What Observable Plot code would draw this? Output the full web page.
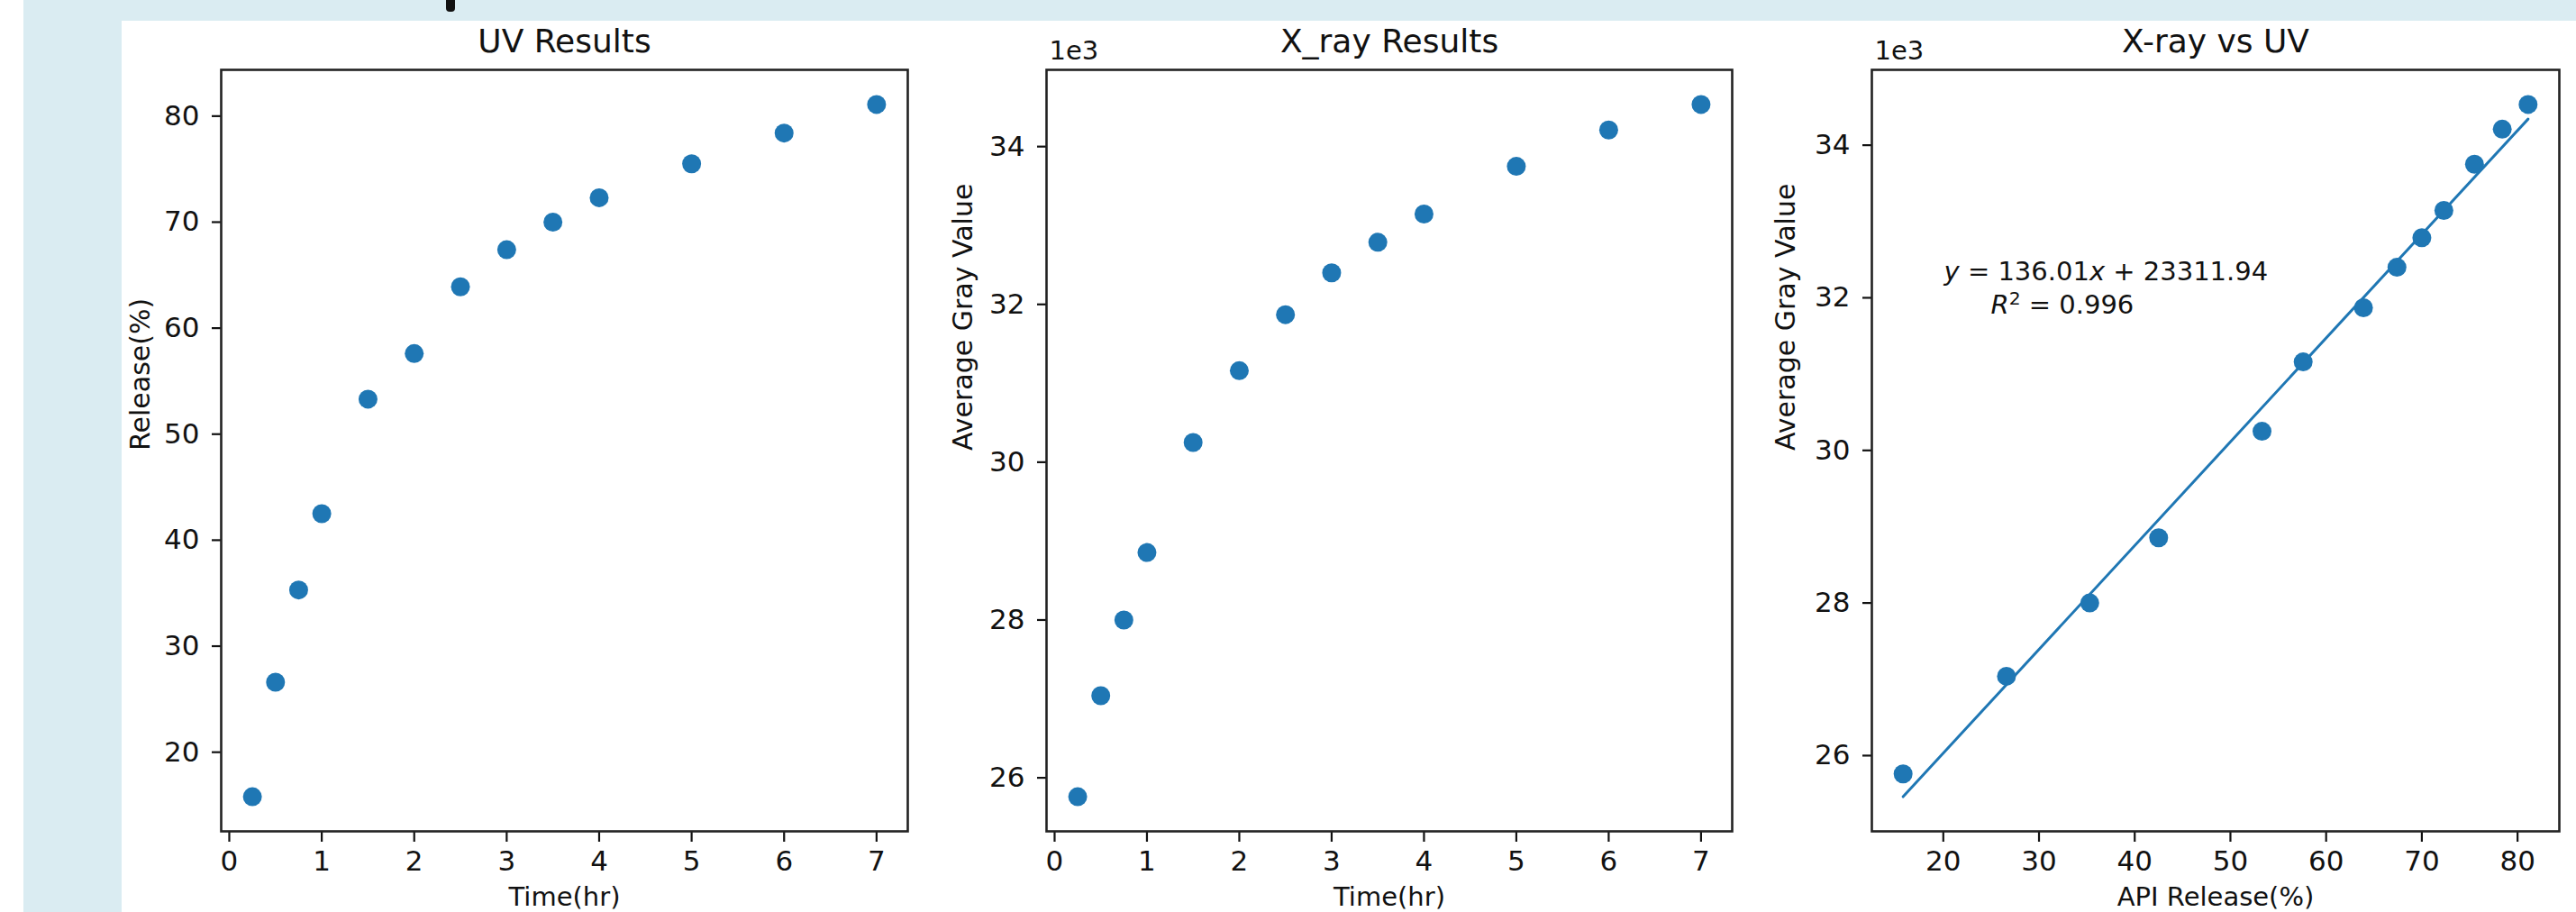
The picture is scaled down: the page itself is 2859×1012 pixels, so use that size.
<!DOCTYPE html>
<html><head><meta charset="utf-8">
<script src="https://cdn.jsdelivr.net/npm/d3@7"></script>
<script src="https://cdn.jsdelivr.net/npm/@observablehq/plot@0.6"></script>
<style>
html,body{margin:0;padding:0;background:#fff;}
#page{position:relative;width:2859px;height:1012px;overflow:hidden;background:#fff;font-family:"DejaVu Sans";}
.band{position:absolute;background:#daecf2;}
.panel{position:absolute;top:23px;}
</style></head><body>
<div id="page">
  <div class="band" style="left:26px;top:0;width:2833px;height:23px"></div>
  <div class="band" style="left:26px;top:0;width:109px;height:1012px"></div>
  <div style="position:absolute;left:495px;top:0;width:10px;height:13px;background:#111;border-radius:0 0 4px 4px"></div>
</div>
<script>
// ---- data ----
const time = [0.25, 0.5, 0.75, 1, 1.5, 2, 2.5, 3, 3.5, 4, 5, 6, 7];
const uvRelease = [15.8, 26.6, 35.3, 42.5, 53.3, 57.6, 63.9, 67.4, 70.0, 72.3, 75.5, 78.4, 81.1];
const xrayGray = [25760, 27040, 28000, 28855, 30250, 31160, 31870, 32400, 32787, 33145, 33750, 34210, 34534];
const timeTicks = [0, 1, 2, 3, 4, 5, 6, 7];
const uvTicks = [20, 30, 40, 50, 60, 70, 80];
const grayTicks = [26000, 28000, 30000, 32000, 34000];
const apiTicks = [20, 30, 40, 50, 60, 70, 80];
const fitSlope = 136.01, fitIntercept = 23311.94, fitR2 = 0.996;
const titles = ["UV Results", "X_ray Results", "X-ray vs UV"];
const xLabels = ["Time(hr)", "Time(hr)", "API Release(%)"];
const yLabels = ["Release(%)", "Average Gray Value", "Average Gray Value"];
const offsetText = "1e3";

// ---- helpers ----
const blue = "#1f77b4";
const ink = "#111";
const pad = ([a, b]) => [a - 0.05 * (b - a), b + 0.05 * (b - a)];
const rows = time.map((t, i) => ({t, uv: uvRelease[i], gray: xrayGray[i]}));
const fitLine = d3.extent(uvRelease).map(x => ({x, y: fitSlope * x + fitIntercept}));
const kfmt = d => String(d / 1000);

function panel({left, width, mLeft, mRight, xKey, yKey, xDomain, yDomain, xTicks, yTicks, yFmt, title, xLabel, yLabel, yLabelDx, offset, extra = []}) {
  const svg = Plot.plot({
    width, height: 989,
    marginTop: 54, marginBottom: 90, marginLeft: mLeft, marginRight: mRight,
    style: {fontFamily: "DejaVu Sans", color: ink, background: "transparent", overflow: "visible"},
    x: {domain: xDomain},
    y: {domain: yDomain},
    marks: [
      Plot.axisX({ticks: xTicks, tickSize: 12, tickPadding: 9, fontSize: 31, strokeWidth: 2.2, label: null}),
      Plot.axisY({ticks: yTicks, tickSize: 10, tickPadding: 14, fontSize: 31, strokeWidth: 2.2, label: null, tickFormat: yFmt}),
      ...extra,
      Plot.dot(rows, {x: xKey, y: yKey, r: 10.5, fill: blue, stroke: null}),
      Plot.frame({stroke: "#222", strokeWidth: 2.6}),
      Plot.text([title], {frameAnchor: "top", lineAnchor: "bottom", dy: -20, fontSize: 36, fill: ink}),
      Plot.text([xLabel], {frameAnchor: "bottom", lineAnchor: "top", dy: 62, fontSize: 29, fill: ink}),
      Plot.text([yLabel], {frameAnchor: "left", rotate: -90, lineAnchor: "middle", dx: yLabelDx, fontSize: 30, fill: ink}),
      ...(offset ? [Plot.text([offsetText], {frameAnchor: "top-left", textAnchor: "start", lineAnchor: "bottom", dx: 3, dy: -12, fontSize: 29, fill: ink})] : [])
    ]
  });
  svg.classList.add("panel");
  svg.style.left = left + "px";
  document.getElementById("page").appendChild(svg);
  return svg;
}

panel({left: 135, width: 905, mLeft: 110, mRight: 33, xKey: "t", yKey: "uv",
  xDomain: pad(d3.extent(time)), yDomain: pad(d3.extent(uvRelease)),
  xTicks: timeTicks, yTicks: uvTicks, yFmt: d => String(d),
  title: titles[0], xLabel: xLabels[0], yLabel: yLabels[0], yLabelDx: -89, offset: false});

panel({left: 1041, width: 934, mLeft: 120, mRight: 53, xKey: "t", yKey: "gray",
  xDomain: pad(d3.extent(time)), yDomain: pad(d3.extent(xrayGray)),
  xTicks: timeTicks, yTicks: grayTicks, yFmt: kfmt,
  title: titles[1], xLabel: xLabels[1], yLabel: yLabels[1], yLabelDx: -92, offset: true});

const eq1 = `y = ${fitSlope.toFixed(2)}x + ${fitIntercept.toFixed(2)}`;
const eq2 = `R2 = ${fitR2.toFixed(3)}`;
const p3 = panel({left: 1975, width: 884, mLeft: 102, mRight: 19, xKey: "uv", yKey: "gray",
  xDomain: pad(d3.extent(uvRelease)),
  yDomain: pad(d3.extent([...xrayGray, ...fitLine.map(d => d.y)])),
  xTicks: apiTicks, yTicks: grayTicks, yFmt: kfmt,
  title: titles[2], xLabel: xLabels[2], yLabel: yLabels[2], yLabelDx: -95, offset: true,
  extra: [
    Plot.line(fitLine, {x: "x", y: "y", stroke: blue, strokeWidth: 3}),
    Plot.text([eq1], {frameAnchor: "top-left", textAnchor: "start", lineAnchor: "bottom", dx: 80, dy: 233, fontSize: 29, fill: ink}),
    Plot.text([eq2], {frameAnchor: "top-left", textAnchor: "start", lineAnchor: "bottom", dx: 132, dy: 270, fontSize: 29, fill: ink})
  ]});

// mathtext-style italics / superscript
d3.select(p3).selectAll("text").each(function () {
  const s = this.textContent;
  const t = d3.select(this);
  if (s === eq1) {
    const m = s.match(/^y = (.*)x \+ (.*)$/);
    t.text(null);
    t.append("tspan").attr("font-style", "italic").text("y");
    t.append("tspan").text(" = " + m[1]);
    t.append("tspan").attr("font-style", "italic").text("x");
    t.append("tspan").text(" + " + m[2]);
  } else if (s === eq2) {
    t.text(null);
    t.append("tspan").attr("font-style", "italic").text("R");
    t.append("tspan").attr("font-size", "0.7em").attr("dy", "-0.45em").text("2");
    t.append("tspan").attr("dy", "0.315em").text(" = " + fitR2.toFixed(3));
  }
});
</script>
</body></html>
